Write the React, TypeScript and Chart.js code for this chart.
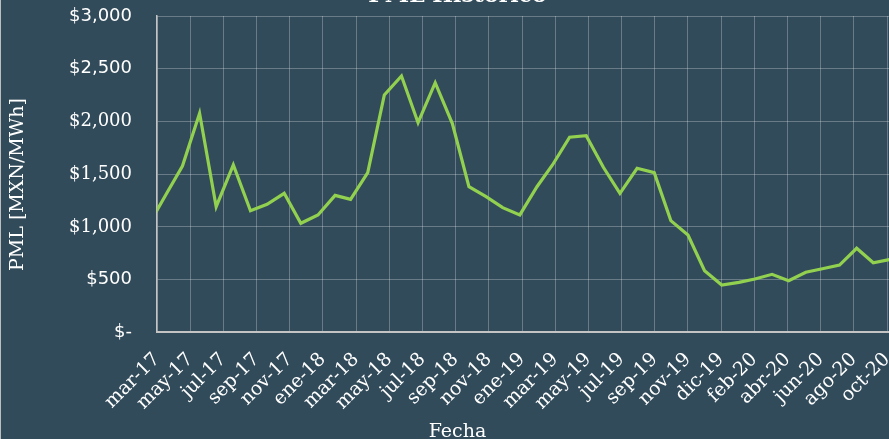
import { useEffect, useRef } from 'react';
import { Chart, registerables } from 'chart.js';

Chart.register(...registerables);

// Monthly PML values (dated on the 1st of each month)
const months = [
  '2017-03', '2017-04', '2017-05', '2017-06', '2017-07', '2017-08', '2017-09', '2017-10', '2017-11', '2017-12',
  '2018-01', '2018-02', '2018-03', '2018-04', '2018-05', '2018-06', '2018-07', '2018-08', '2018-09', '2018-10', '2018-11', '2018-12',
  '2019-01', '2019-02', '2019-03', '2019-04', '2019-05', '2019-06', '2019-07', '2019-08', '2019-09', '2019-10', '2019-11', '2019-12',
  '2020-01', '2020-02', '2020-03', '2020-04', '2020-05', '2020-06', '2020-07', '2020-08', '2020-09', '2020-10', '2020-11',
];
const pml = [
  1020, 1305, 1577, 2077, 1191, 1587, 1153, 1214, 1318, 1034,
  1113, 1299, 1261, 1514, 2251, 2431, 1988, 2367, 1980, 1381, 1286, 1182,
  1113, 1381, 1587, 1850, 1865, 1565, 1318, 1556, 1514, 1059, 923, 584,
  449, 474, 506, 550, 489, 569, 603, 638, 797, 660, 692,
];

// Date axis settings
const axisStart = '2017-03-16';
const axisEnd = '2020-12-01';
const tickStepDays = 60;
const monthAbbr = ['ene', 'feb', 'mar', 'abr', 'may', 'jun', 'jul', 'ago', 'sep', 'oct', 'nov', 'dic'];
const yMin = 0;
const yMax = 3000;
const yStep = 500;
const serifTickValues = [1000, 1500, 2000];

const chartTitle = 'PML Histórico';
const xTitle = 'Fecha';
const yTitle = 'PML [MXN/MWh]';

const DAY = 86400000;
const toUTC = (s: string) => {
  const [y, m, d] = s.split('-').map(Number);
  return Date.UTC(y, m - 1, d || 1);
};
const startMs = toUTC(axisStart);
const daysFromStart = (s: string) => (toUTC(s) - startMs) / DAY;

const BG = '#324b5a';
const GRID = 'rgba(255,255,255,0.27)';
const AXIS = '#c4c4c4';
const LINE = '#92d050';
const W = 907;
const H = 439;

const decorPlugin = {
  id: 'decor',
  afterDraw(chart: any) {
    const ctx = chart.ctx as CanvasRenderingContext2D;
    ctx.save();
    ctx.fillStyle = '#ffffff';
    ctx.textAlign = 'center';
    ctx.textBaseline = 'alphabetic';
    ctx.font = 'bold 22px "DejaVu Serif"';
    ctx.fillText(chartTitle, 457.5, 1.5);
    ctx.font = '19px "DejaVu Serif"';
    ctx.fillText(xTitle, 457.5, 437);
    ctx.translate(18, 184.5);
    ctx.rotate(-Math.PI / 2);
    ctx.textBaseline = 'middle';
    ctx.fillText(yTitle, 0, 0);
    ctx.restore();

    ctx.save();
    ctx.strokeStyle = '#bdbdbd';
    ctx.lineWidth = 1;
    ctx.beginPath();
    ctx.moveTo(0.5, 0);
    ctx.lineTo(0.5, H);
    ctx.stroke();
    ctx.restore();
  },
};

export default function App() {
  const ref = useRef<HTMLCanvasElement | null>(null);

  useEffect(() => {
    if (!ref.current) return;
    const data = months.map((m, i) => ({ x: daysFromStart(m), y: pml[i] }));
    const endDays = daysFromStart(axisEnd);

    const chart = new Chart(ref.current, {
      type: 'line',
      data: {
        datasets: [
          {
            data,
            borderColor: LINE,
            borderWidth: 3.2,
            pointRadius: 0,
            tension: 0,
            fill: false,
            clip: 0,
          } as any,
        ],
      },
      options: {
        responsive: false,
        animation: false,
        devicePixelRatio: 1,
        layout: { padding: { top: 16, left: 0, right: 0, bottom: 0 } },
        plugins: {
          legend: { display: false },
          title: { display: false },
          tooltip: { enabled: false },
        },
        scales: {
          x: {
            type: 'linear',
            min: 0,
            max: endDays,
            grid: { color: GRID, lineWidth: 1, drawTicks: false },
            border: { color: AXIS, width: 2 },
            afterBuildTicks: (s: any) => {
              const t: any[] = [];
              for (let v = 0; v <= s.max; v += tickStepDays) t.push({ value: v });
              s.ticks = t;
            },
            ticks: {
              stepSize: tickStepDays,
              autoSkip: false,
              minRotation: 45,
              maxRotation: 45,
              padding: 16,
              color: '#ffffff',
              font: { family: 'DejaVu Serif', size: 19 },
              callback: (v: any) => {
                const n = Number(v);
                const d = new Date(startMs + n * DAY);
                return monthAbbr[d.getUTCMonth()] + '-' + String(d.getUTCFullYear()).slice(2);
              },
            },
            afterFit: (s: any) => {
              s.height = H - 332.3;
              s.paddingLeft = 0;
              s.paddingRight = 0;
            },
          } as any,
          y: {
            min: yMin,
            max: yMax,
            grid: { color: GRID, lineWidth: 1, drawTicks: false },
            border: { color: AXIS, width: 1.5 },
            ticks: {
              stepSize: yStep,
              padding: 25,
              color: '#ffffff',
              font: (c: any) => ({
                family: serifTickValues.includes(c.tick?.value) ? 'DejaVu Serif' : 'DejaVu Sans',
                size: 18,
              }),
              callback: (v: any) => (Number(v) === 0 ? '$-' : '$' + Number(v).toLocaleString('en-US')),
            },
            afterFit: (s: any) => {
              s.width = 157;
              s.paddingTop = 0;
              s.paddingBottom = 0;
            },
          } as any,
        },
      },
      plugins: [decorPlugin],
    });
    return () => chart.destroy();
  }, []);

  return (
    <div style={{ position: 'fixed', left: 0, top: 0, width: W, height: H, background: BG, overflow: 'hidden' }}>
      <canvas ref={ref} width={W} height={H} style={{ display: 'block' }} />
    </div>
  );
}
